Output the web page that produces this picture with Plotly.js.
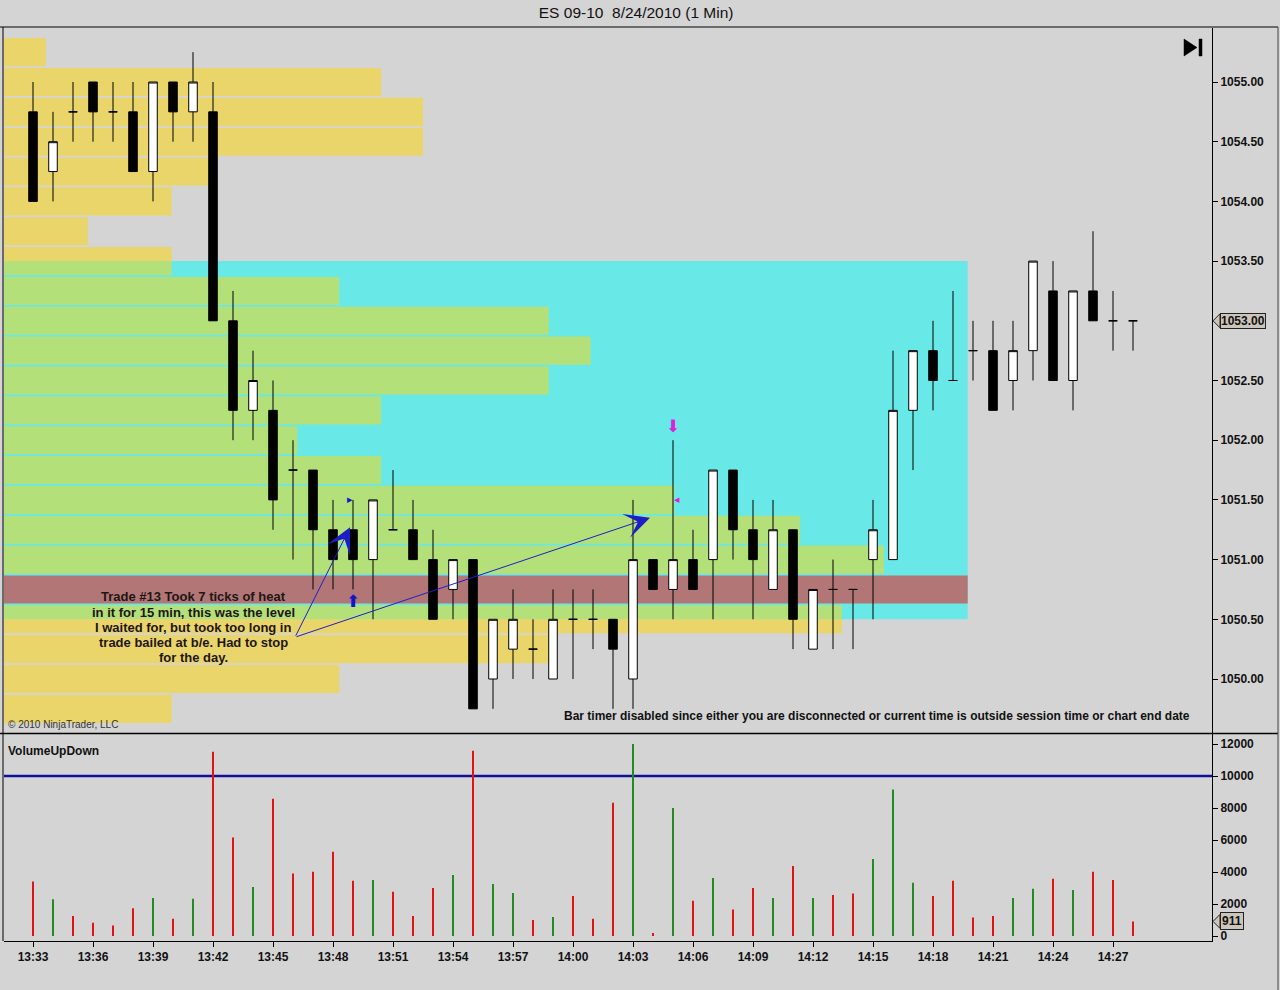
<!DOCTYPE html>
<html><head><meta charset="utf-8">
<script src="https://cdn.plot.ly/plotly-3.0.1.min.js"></script>
<style>html,body{margin:0;padding:0;background:#D4D4D4;}#chart{width:1280px;height:990px;}</style>
</head><body><div id="chart"></div>
<script>
(function(){
// ---- data ----
const chartTitle = 'ES 09-10\u00a0 8/24/2010 (1 Min)';
const times = ['13:33','13:34','13:35','13:36','13:37','13:38','13:39','13:40','13:41','13:42',
  '13:43','13:44','13:45','13:46','13:47','13:48','13:49','13:50','13:51','13:52',
  '13:53','13:54','13:55','13:56','13:57','13:58','13:59','14:00','14:01','14:02',
  '14:03','14:04','14:05','14:06','14:07','14:08','14:09','14:10','14:11','14:12',
  '14:13','14:14','14:15','14:16','14:17','14:18','14:19','14:20','14:21','14:22',
  '14:23','14:24','14:25','14:26','14:27','14:28'];
const openP = [1054.75,1054.25,1054.75,1055.00,1054.75,1054.75,1054.25,1055.00,1054.75,1054.75,
  1053.00,1052.25,1052.25,1051.75,1051.75,1051.25,1051.25,1051.00,1051.25,1051.25,
  1051.00,1050.75,1051.00,1050.00,1050.25,1050.25,1050.00,1050.50,1050.50,1050.50,
  1050.00,1051.00,1050.75,1051.00,1051.00,1051.75,1051.25,1050.75,1051.25,1050.25,
  1050.75,1050.75,1051.00,1051.00,1052.25,1052.75,1052.50,1052.75,1052.75,1052.50,
  1052.75,1053.25,1052.50,1053.25,1053.00,1053.00];
const highP = [1055.00,1054.75,1055.00,1055.00,1055.00,1055.00,1055.00,1055.00,1055.25,1055.00,
  1053.25,1052.75,1052.50,1052.00,1051.75,1051.50,1051.50,1051.50,1051.75,1051.50,
  1051.25,1051.00,1051.00,1050.50,1050.75,1050.50,1050.75,1050.75,1050.75,1050.50,
  1051.50,1051.00,1052.00,1051.25,1051.75,1051.75,1051.50,1051.50,1051.25,1050.75,
  1051.00,1050.75,1051.50,1052.75,1052.75,1053.00,1053.25,1053.00,1053.00,1053.00,
  1053.50,1053.50,1053.25,1053.75,1053.25,1053.00];
const lowP = [1054.00,1054.00,1054.50,1054.50,1054.50,1054.25,1054.00,1054.50,1054.50,1053.00,
  1052.00,1052.00,1051.25,1051.00,1050.75,1050.75,1050.75,1050.50,1051.25,1051.00,
  1050.50,1050.50,1049.75,1049.75,1050.00,1050.00,1050.00,1050.00,1050.25,1049.75,
  1049.75,1050.75,1050.50,1050.75,1050.50,1051.00,1050.50,1050.75,1050.25,1050.25,
  1050.25,1050.25,1050.50,1051.00,1051.75,1052.25,1052.50,1052.50,1052.25,1052.25,
  1052.50,1052.50,1052.25,1053.00,1052.75,1052.75];
const closeP = [1054.00,1054.50,1054.75,1054.75,1054.75,1054.25,1055.00,1054.75,1055.00,1053.00,
  1052.25,1052.50,1051.50,1051.75,1051.25,1051.00,1051.00,1051.50,1051.25,1051.00,
  1050.50,1051.00,1049.75,1050.50,1050.50,1050.25,1050.50,1050.50,1050.50,1050.25,
  1051.00,1050.75,1051.00,1050.75,1051.75,1051.25,1051.00,1051.25,1050.50,1050.75,
  1050.75,1050.75,1051.25,1052.25,1052.75,1052.50,1052.50,1052.75,1052.25,1052.75,
  1053.50,1052.50,1053.25,1053.00,1053.00,1053.00];
const volume = [3400,2300,1250,830,650,1730,2380,1080,2330,11520,
  6150,3060,8580,3900,4020,5270,3460,3500,2770,1250,
  3000,3810,11580,3250,2690,1000,1190,2500,1080,8330,
  12000,190,8000,2210,3630,1650,3000,2380,4380,2380,
  2560,2650,4810,9150,3330,2500,3460,1150,1250,2380,
  2960,3580,2880,4020,3500,911];
const volumeLevel = 10000;
const profilePrices = [1055.25,1055.00,1054.75,1054.50,1054.25,1054.00,1053.75,1053.50,1053.25,1053.00,
  1052.75,1052.50,1052.25,1052.00,1051.75,1051.50,1051.25,1051.00,1050.75,1050.50,
  1050.25,1050.00,1049.75];
const profileCounts = [1,9,10,10,5,4,2,4,8,13,14,13,9,7,9,16,19,21,23,20,13,8,4];
const vaHigh = 1053.50, vaLow = 1050.50, poc = 1050.75;
const tickSize = 0.25;
const trade = {entryTime:'13:49', entryPrice:1051.50, exitTime:'14:05', exitPrice:1051.50};
const noteLines = ['Trade #13 Took 7 ticks of heat', 'in it for 15 min, this was the level',
  'I waited for, but took too long in', 'trade bailed at b/e. Had to stop', 'for the day.'];
// note arrow: tail point and two tips (bar index position, price)
const noteTail = [13.1, 1050.35];
const noteTips = [[15.85, 1051.27], [30.85, 1051.35]];

// ---- colours ----
const YEL = '#EAD56A', GRN = '#B4E07A', CYAN = '#68E9E8', POCC = '#B27676';
const BG = '#D4D4D4';

// ---- profile rows ----
const pY = [], pX = [], pW = [], pC = [];
const h = tickSize * 0.94;
function addRow(y, x, w, c){ pY.push(y); pX.push(x); pW.push(w); pC.push(c); }
profilePrices.forEach((p, i) => {
  const c = profileCounts[i];
  if (p === poc) addRow(p, c, h, POCC);
  else if (p === vaHigh) { addRow(p + h/4, c, h/2, YEL); addRow(p - h/4, c, h/2, GRN); }
  else if (p === vaLow) { addRow(p + h/4, c, h/2, GRN); addRow(p - h/4, c, h/2, YEL); }
  else addRow(p, c, h, (p > vaHigh || p < vaLow) ? YEL : GRN);
});
const volColors = closeP.map((c, i) => c > openP[i] ? '#238B23' : '#E01414');
const tickTimes = times.filter((t, i) => i % 3 === 0);

const traces = [
  {type:'bar', orientation:'h', x:pX, y:pY, width:pW, marker:{color:pC, line:{width:0}},
   xaxis:'x2', yaxis:'y', hoverinfo:'skip'},
  {type:'candlestick', x:times, open:openP, high:highP, low:lowP, close:closeP,
   xaxis:'x3', yaxis:'y', whiskerwidth:0,
   increasing:{line:{color:'#000', width:1}, fillcolor:'#FFFFFF'},
   decreasing:{line:{color:'#000', width:1}, fillcolor:'#000000'}, hoverinfo:'skip'},
  {type:'bar', x:times, y:volume, width:0.1, marker:{color:volColors, line:{width:0}},
   xaxis:'x', yaxis:'y2', hoverinfo:'skip'}
];

const PH = 913;
const py = yp => (941 - yp) / PH;      // pixel row -> paper
const px = xp => (xp - 4) / 1208;      // pixel col -> paper
const mainBottom = py(733), volTop = py(734);
const lastClose = closeP[closeP.length - 1], lastVol = volume[volume.length - 1];
const axFont = {size:12, weight:'bold', color:'#111'};
const entryIdx = times.indexOf(trade.entryTime), exitIdx = times.indexOf(trade.exitTime);

const noteAnns = noteLines.map((t, k) => ({xref:'paper', yref:'paper', x:px(193), y:py(597 + 15*k),
  xanchor:'center', yanchor:'middle', text:'<b>' + t + '</b>', showarrow:false, font:{size:13, color:'#221515'}}));

const layout = {
  width:1280, height:990,
  margin:{l:4, r:68, t:28, b:49, pad:0},
  paper_bgcolor:BG, plot_bgcolor:BG, showlegend:false,
  font:{family:'Liberation Sans, Arial, sans-serif', size:12, color:'#111'},
  title:{text:chartTitle, font:{size:15.5, color:'#111'}, x:0.497, xanchor:'center', y:1 - 13/990, yref:'container', yanchor:'middle'},
  boxgap:0.39,
  xaxis:{type:'category', anchor:'y2', domain:[0,1], range:[-1.45,58.95], categoryorder:'array', categoryarray:times,
    tickmode:'array', tickvals:tickTimes, ticktext:tickTimes, ticks:'outside', ticklen:5, tickcolor:'#000',
    showline:true, linecolor:'#000', linewidth:1, showgrid:false, zeroline:false, tickfont:axFont,
    rangeslider:{visible:false}, fixedrange:true},
  xaxis2:{anchor:'y', domain:[0,1], range:[0, 1208/41.9], visible:false, fixedrange:true},
  xaxis3:{type:'category', overlaying:'x2', anchor:'y', range:[-1.45,58.95], categoryorder:'array', categoryarray:times,
    visible:false, rangeslider:{visible:false}, fixedrange:true},
  yaxis:{anchor:'x2', side:'right', domain:[mainBottom,1], range:[1049.5477,1055.4523],
    tickmode:'linear', tick0:1050, dtick:0.5, tickformat:'.2f', ticks:'outside', ticklen:5, tickcolor:'#000',
    showline:true, linecolor:'#000', linewidth:1, showgrid:false, zeroline:false, tickfont:axFont, fixedrange:true},
  yaxis2:{anchor:'x', side:'right', domain:[0,volTop], range:[-312.5,12625],
    tickmode:'linear', tick0:0, dtick:2000, tickformat:'d', ticks:'outside', ticklen:5, tickcolor:'#000',
    showline:true, linecolor:'#000', linewidth:1, showgrid:false, zeroline:false, tickfont:axFont, fixedrange:true},
  shapes:[
    {type:'rect', xref:'x2', yref:'y', x0:0, x1:Math.max(...profileCounts), y0:vaLow, y1:vaHigh,
     fillcolor:CYAN, line:{width:0}, layer:'below'},
    {type:'line', xref:'paper', yref:'y2', x0:0, x1:1, y0:volumeLevel, y1:volumeLevel, line:{color:'#10109E', width:2.5}, layer:'below'},
    {type:'line', xref:'paper', yref:'paper', x0:px(0), x1:px(1278), y0:py(27), y1:py(27), line:{color:'#000', width:1}},
    {type:'line', xref:'paper', yref:'paper', x0:px(0), x1:px(1278), y0:py(733.5), y1:py(733.5), line:{color:'#000', width:1.5}},
    {type:'line', xref:'paper', yref:'paper', x0:px(3), x1:px(3), y0:0, y1:py(27), line:{color:'#000', width:1}},
    {type:'line', xref:'paper', yref:'paper', x0:px(1278), x1:px(1278), y0:py(990), y1:py(27), line:{color:'#444', width:1}},
    {type:'path', xref:'paper', xsizemode:'pixel', xanchor:1, yref:'y', ysizemode:'pixel', yanchor:lastClose,
     path:'M1,0 L8,7 L8,-7 Z', fillcolor:'#CBC5BA', line:{color:'#222', width:1}},
    {type:'path', xref:'paper', xsizemode:'pixel', xanchor:1, yref:'y2', ysizemode:'pixel', yanchor:lastVol,
     path:'M1,0 L8,7 L8,-7 Z', fillcolor:'#CBC5BA', line:{color:'#222', width:1}},
    {type:'path', xref:'paper', xsizemode:'pixel', xanchor:1, yref:'paper', ysizemode:'pixel', yanchor:1,
     path:'M-28,-11 L-15,-19.5 L-28,-28 Z M-13,-11 L-10,-11 L-10,-28 L-13,-28 Z', fillcolor:'#000', line:{color:'#000', width:0.5}}
  ],
  annotations:[
    {xref:'paper', yref:'y', x:1, xanchor:'left', xshift:8, y:lastClose, text:lastClose.toFixed(2), showarrow:false,
     bgcolor:'#CBC5BA', bordercolor:'#222', borderwidth:1, borderpad:0, font:{size:12, weight:'bold', color:'#111'}},
    {xref:'paper', yref:'y2', x:1, xanchor:'left', xshift:8, y:lastVol, text:String(lastVol), showarrow:false,
     bgcolor:'#CBC5BA', bordercolor:'#222', borderwidth:1, borderpad:1, font:{size:12, weight:'bold', color:'#111'}},
    ...noteAnns,
    ...noteTips.map(t => ({xref:'x3', yref:'y', x:t[0], y:t[1], axref:'x3', ayref:'y', ax:noteTail[0], ay:noteTail[1],
     text:'', showarrow:true, arrowhead:3, arrowsize:4.2, arrowwidth:1, arrowcolor:'#1E1EC8'})),
    {xref:'x3', yref:'y', x:entryIdx, y:lowP[entryIdx], yshift:-12,
     text:'⬆', showarrow:false, font:{family:'DejaVu Sans', size:17, color:'#1414C8'}},
    {xref:'x3', yref:'y', x:entryIdx, y:trade.entryPrice, xshift:-3,
     text:'▸', showarrow:false, font:{family:'DejaVu Sans', size:11, color:'#1414C8'}},
    {xref:'x3', yref:'y', x:exitIdx, y:highP[exitIdx], yshift:14,
     text:'⬇', showarrow:false, font:{family:'DejaVu Sans', size:17, color:'#E01EE0'}},
    {xref:'x3', yref:'y', x:exitIdx, y:trade.exitPrice, xshift:4,
     text:'◂', showarrow:false, font:{family:'DejaVu Sans', size:11, color:'#E01EE0'}},
    {xref:'paper', yref:'paper', x:px(6), y:py(751), xanchor:'left', yanchor:'middle', text:'<b>VolumeUpDown</b>',
     showarrow:false, font:{size:12, color:'#111'}},
    {xref:'paper', yref:'paper', x:px(6), y:py(724), xanchor:'left', yanchor:'middle', text:'© 2010 NinjaTrader, LLC',
     showarrow:false, font:{size:10, color:'#333'}},
    {xref:'paper', yref:'paper', x:px(1192), y:py(716), xanchor:'right', yanchor:'middle',
     text:'<b>Bar timer disabled since either you are disconnected or current time is outside session time or chart end date</b>',
     showarrow:false, font:{family:'Liberation Sans Narrow, Arial Narrow, Liberation Sans, sans-serif', size:12, color:'#111'}}
  ]
};

Plotly.newPlot('chart', traces, layout, {displayModeBar:false, staticPlot:true});
})();
</script></body></html>
